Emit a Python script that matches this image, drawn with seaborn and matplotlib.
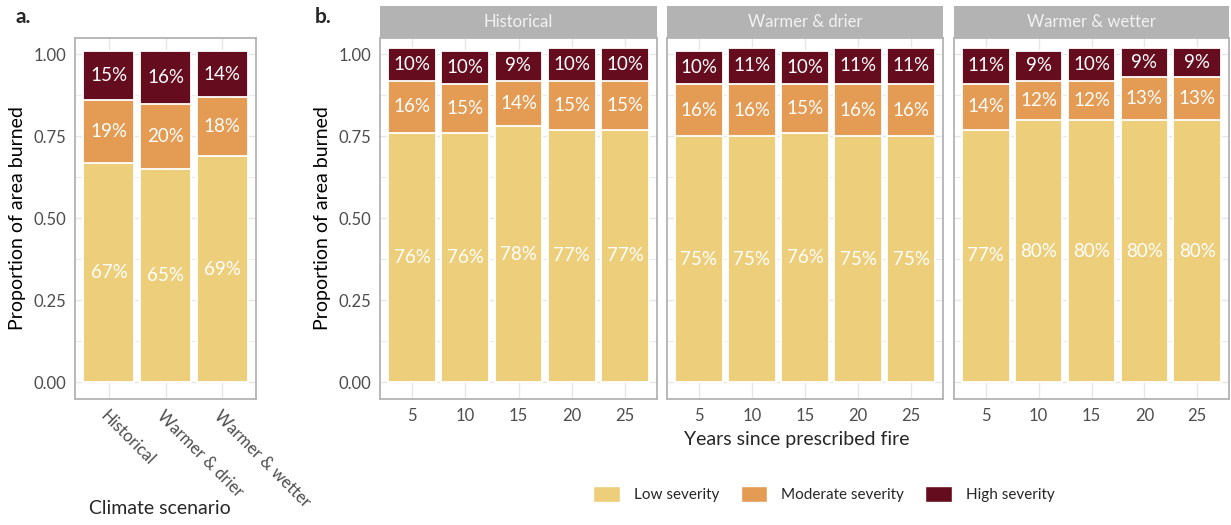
import numpy as np
import pandas as pd
import matplotlib
matplotlib.use("Agg")
import matplotlib.pyplot as plt
from matplotlib.patches import Patch
from matplotlib.ticker import MultipleLocator
import seaborn as sns

# ---- data -----------------------------------------------------------------
scenarios = ["Historical", "Warmer & drier", "Warmer & wetter"]
severity = ["Low severity", "Moderate severity", "High severity"]
sev_colors = ["#EDCE7B", "#E49B53", "#650D1F"]

# a. share of area burned by severity class (%), per climate scenario
overall_low = [67, 65, 69]
overall_mod = [19, 20, 18]
overall_high = [15, 16, 14]

# b. same, by years since prescribed fire
years = ["5", "10", "15", "20", "25"]
hist_low = [76, 76, 78, 77, 77]
hist_mod = [16, 15, 14, 15, 15]
hist_high = [10, 10, 9, 10, 10]
dry_low = [75, 75, 76, 75, 75]
dry_mod = [16, 16, 15, 16, 16]
dry_high = [10, 11, 10, 11, 11]
wet_low = [77, 80, 80, 80, 80]
wet_mod = [14, 12, 12, 13, 13]
wet_high = [11, 9, 10, 9, 9]

facet_data = [
    (hist_low, hist_mod, hist_high),
    (dry_low, dry_mod, dry_high),
    (wet_low, wet_mod, wet_high),
]

# ---- style ----------------------------------------------------------------
sns.set_style("white")
FONT = ["Lato", "DejaVu Sans"]
plt.rcParams["font.family"] = FONT
GRID = "#E6E6E6"
BORDER = "#B3B3B3"
TICKTXT = "#4D4D4D"
TITLE_SIZE = 14


def stacked(ax, cats, low, mod, high):
    df = pd.DataFrame({
        "cat": cats,
        "low": np.array(low) / 100.0,
        "mod": np.array(mod) / 100.0,
        "high": np.array(high) / 100.0,
    })
    df["lm"] = df["low"] + df["mod"]
    df["total"] = df["lm"] + df["high"]
    # draw cumulative layers from the top down so each segment shows
    for col, c in [("total", sev_colors[2]), ("lm", sev_colors[1]), ("low", sev_colors[0])]:
        sns.barplot(data=df, x="cat", y=col, order=cats, color=c, saturation=1,
                    width=0.9, edgecolor="white", linewidth=1.3, errorbar=None,
                    ax=ax, zorder=2)
    for i, row in df.iterrows():
        for bottom, val in [(0.0, row["low"]), (row["low"], row["mod"]), (row["lm"], row["high"])]:
            ax.text(i, bottom + val / 2, f"{val * 100:.0f}%", ha="center", va="center",
                    color="white", fontsize=13.5, zorder=3)


def style_axes(ax, n, show_y=True):
    ax.set_ylim(-0.05, 1.05)
    ax.set_xlim(-0.6, n - 0.4)
    ax.yaxis.set_major_locator(MultipleLocator(0.25))
    ax.yaxis.set_minor_locator(MultipleLocator(0.125))
    ax.grid(True, which="major", axis="both", color=GRID, lw=1.0, zorder=0)
    ax.grid(True, which="minor", axis="y", color=GRID, lw=0.6, zorder=0)
    ax.set_axisbelow(True)
    for s in ax.spines.values():
        s.set_visible(True)
        s.set_color(BORDER)
        s.set_linewidth(1.3)
    ax.tick_params(axis="both", which="major", length=3.5, width=1.0, color=BORDER,
                   labelsize=12, labelcolor=TICKTXT, pad=3)
    ax.tick_params(axis="y", which="minor", length=0)
    if show_y:
        ax.set_yticklabels([f"{v:.2f}" for v in ax.get_yticks()])
    else:
        ax.tick_params(axis="y", which="major", length=0, labelleft=False)
    ax.set_xlabel("")
    ax.set_ylabel("")


W, H = 1231, 525
fig = plt.figure(figsize=(W / 100, H / 100), dpi=100)


def px_axes(x0, y0, x1, y1):
    return fig.add_axes([x0 / W, 1 - y1 / H, (x1 - x0) / W, (y1 - y0) / H])


# ---- panel a --------------------------------------------------------------
ax_a = px_axes(75, 38, 256, 398.5)
stacked(ax_a, scenarios, overall_low, overall_mod, overall_high)
style_axes(ax_a, len(scenarios))
ax_a.set_xticks(range(len(scenarios)))
ax_a.set_xticklabels(scenarios, rotation=-45, ha="left", va="top", rotation_mode="anchor")
ax_a.set_ylabel("Proportion of area burned", fontsize=TITLE_SIZE, color="black", labelpad=5)
fig.text(160 / W, 1 - 508 / H, "Climate scenario", fontsize=TITLE_SIZE, ha="center", va="center")
fig.text(15 / W, 1 - 17 / H, "a.", fontsize=15, fontweight="bold", va="center", ha="left")

# ---- panel b --------------------------------------------------------------
facet_x = [(380, 657), (667, 943), (954, 1229)]
axes_b = []
for k, ((x0, x1), name, (lo, md, hi)) in enumerate(zip(facet_x, scenarios, facet_data)):
    ax = px_axes(x0, 38, x1, 398.5)
    stacked(ax, years, lo, md, hi)
    style_axes(ax, len(years), show_y=(k == 0))
    ax.set_xticks(range(len(years)))
    ax.set_xticklabels(years)
    # strip header
    st = px_axes(x0, 6, x1, 38)
    st.set_facecolor("#B3B3B3")
    st.set_xticks([])
    st.set_yticks([])
    for s in st.spines.values():
        s.set_visible(False)
    st.text(0.5, 0.5, name, transform=st.transAxes, ha="center", va="center",
            color="#F2F2F2", fontsize=12)
    axes_b.append(ax)

axes_b[0].set_ylabel("Proportion of area burned", fontsize=TITLE_SIZE, color="black", labelpad=5)
fig.text(797 / W, 1 - 440 / H, "Years since prescribed fire", fontsize=TITLE_SIZE,
         ha="center", va="center")
fig.text(315 / W, 1 - 17 / H, "b.", fontsize=15, fontweight="bold", va="center", ha="left")

# ---- legend ---------------------------------------------------------------
handles = [Patch(facecolor=c, edgecolor="white", label=l) for c, l in zip(sev_colors, severity)]
fig.legend(handles=handles, loc="center", bbox_to_anchor=(824 / W, 1 - 494 / H),
           ncol=3, frameon=False, fontsize=11, handlelength=1.75, handleheight=1.3,
           handletextpad=0.9, columnspacing=1.4)

fig.savefig("out.png", dpi=100)
